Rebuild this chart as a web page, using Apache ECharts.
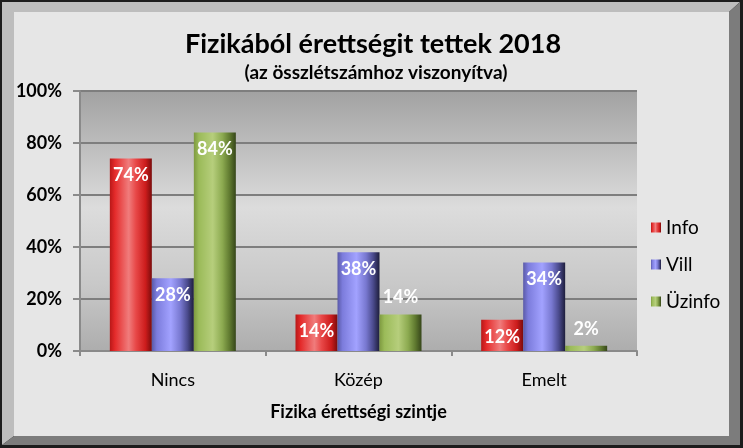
<!DOCTYPE html>
<html><head><meta charset="utf-8">
<script src="https://cdn.jsdelivr.net/npm/echarts@6/dist/echarts.min.js"></script>
<style>html,body{margin:0;padding:0;background:#000}#c{width:743px;height:448px}</style>
</head><body><div id="c"></div>
<script>
const categories = ['Nincs', 'Közép', 'Emelt'];
const infoValues = [74, 14, 12];
const villValues = [28, 38, 34];
const uzinfoValues = [84, 14, 2];
const seriesNames = ['Info', 'Vill', 'Üzinfo'];
const yTicks = [0, 20, 40, 60, 80, 100];

const FONT = 'Lato, "Open Sans", sans-serif';
const chart = echarts.init(document.getElementById('c'), null, {renderer: 'canvas'});

function hgrad(stops) {
  return new echarts.graphic.LinearGradient(0, 0, 1, 0, stops.map((c, i) => ({offset: c[0], color: c[1]})));
}
const redG = hgrad([[0,'#b81818'],[0.12,'#e42a2a'],[0.45,'#f07c7c'],[0.62,'#e84848'],[0.85,'#cc1c1c'],[1,'#7a0c0c']]);
const blueG = hgrad([[0,'#5a5aa8'],[0.12,'#7c7cdc'],[0.45,'#a2a2ff'],[0.68,'#7878d0'],[0.85,'#4a4a8c'],[1,'#1e1e3c']]);
const greenG = hgrad([[0,'#7e9a40'],[0.12,'#9bbb59'],[0.45,'#b6ce7c'],[0.68,'#8caa50'],[0.85,'#607a30'],[1,'#36461a']]);

function labelFor(vals, outsideIdx) {
  return vals.map((v, i) => ({
    value: v,
    label: outsideIdx.includes(i) ? {position: 'top', distance: 8} : {position: 'insideTop', distance: 8}
  }));
}
const lbl = {show: true, color: '#fff', fontWeight: 'bold', fontSize: 18, fontFamily: FONT, formatter: '{c}%'};

const option = {
  backgroundColor: 'transparent',
  animation: false,
  graphic: [
    {type: 'rect', shape: {x: 0, y: 0, width: 743, height: 448}, style: {fill: '#1c1c1c'}, z: -10},
    {type: 'polygon', shape: {points: [[2,2],[740,2],[729,12],[14,12],[14,436],[2,445]]}, style: {fill: '#bdbdbd'}, z: -9},
    {type: 'polygon', shape: {points: [[740,2],[740,445],[2,445],[14,436],[729,436],[729,12]]}, style: {fill: '#7c7c7c'}, z: -9},
    {type: 'rect', shape: {x: 14, y: 12, width: 715, height: 424}, style: {fill: '#e6e6e6'}, z: -8}
  ],
  title: [{
    text: 'Fizikából érettségit tettek 2018',
    left: 368, top: 26, textAlign: 'center',
    textStyle: {fontFamily: FONT, fontWeight: 'bold', fontSize: 27, color: '#000'}
  }, {
    text: '(az összlétszámhoz viszonyítva)',
    left: 371, top: 58, textAlign: 'center',
    textStyle: {fontFamily: FONT, fontWeight: 'bold', fontSize: 19, color: '#000'}
  }],
  legend: {
    orient: 'vertical', left: 646, top: 213, itemGap: 18,
    itemWidth: 10, itemHeight: 10,
    textStyle: {fontFamily: FONT, fontSize: 19, color: '#000'},
    data: seriesNames.map(n => ({name: n, icon: 'rect'}))
  },
  grid: {left: 80, right: 106, top: 91, bottom: 97, show: true, borderWidth: 0,
    backgroundColor: new echarts.graphic.LinearGradient(0, 0, 0, 1, [
      {offset: 0, color: '#a2a2a2'}, {offset: 0.45, color: '#dcdcdc'}, {offset: 0.75, color: '#c8c8c8'}, {offset: 1, color: '#adadad'}])
  },
  xAxis: {
    type: 'category', data: categories,
    name: 'Fizika érettségi szintje', nameLocation: 'middle', nameGap: 52,
    nameTextStyle: {fontFamily: FONT, fontWeight: 'bold', fontSize: 18, color: '#000'},
    axisLine: {lineStyle: {color: '#8a8a8a', width: 2}},
    axisTick: {show: true, length: 5, lineStyle: {color: '#8a8a8a', width: 2}},
    axisLabel: {fontFamily: FONT, fontSize: 18, color: '#000', margin: 20}
  },
  yAxis: {
    type: 'value', min: 0, max: 100, interval: 20,
    axisLine: {show: true, lineStyle: {color: '#8a8a8a', width: 2}},
    axisTick: {show: true, length: 7, lineStyle: {color: '#8a8a8a', width: 2}},
    splitLine: {lineStyle: {color: '#7e7e7e', width: 2}},
    axisLabel: {fontFamily: FONT, fontWeight: 'bold', fontSize: 18, color: '#000', margin: 18,
      formatter: v => yTicks.includes(v) ? v + '%' : ''}
  },
  series: [
    {name: seriesNames[0], type: 'bar', barWidth: 42, barGap: '0%', data: labelFor(infoValues, []),
      itemStyle: {color: redG}, label: lbl},
    {name: seriesNames[1], type: 'bar', barWidth: 42, barGap: '0%', data: labelFor(villValues, []),
      itemStyle: {color: blueG}, label: lbl},
    {name: seriesNames[2], type: 'bar', barWidth: 42, barGap: '0%', data: labelFor(uzinfoValues, [1, 2]),
      itemStyle: {color: greenG}, label: lbl}
  ]
};
chart.setOption(option);
</script></body></html>
